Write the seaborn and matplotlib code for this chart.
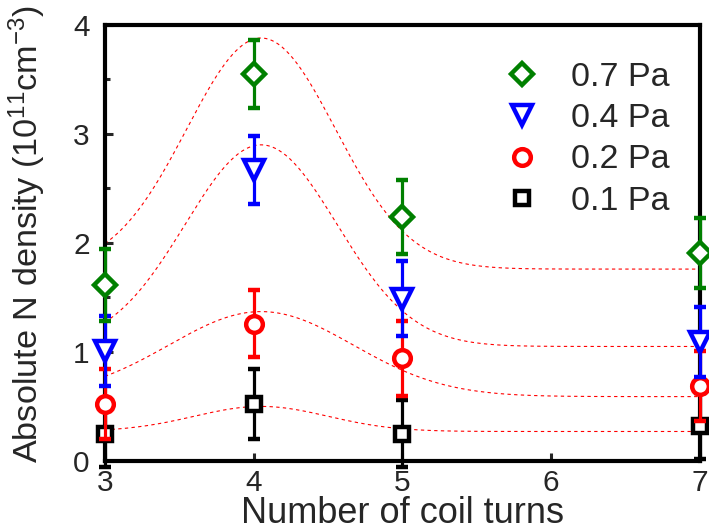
import numpy as np
import pandas as pd
import seaborn as sns
import matplotlib.pyplot as plt
from matplotlib.lines import Line2D
from matplotlib.ticker import MultipleLocator

# measured N density (10^11 cm^-3) vs number of coil turns
turns = [3, 4, 5, 7]
pressures = ["0.7 Pa", "0.4 Pa", "0.2 Pa", "0.1 Pa"]
n_07 = [1.61, 3.55, 2.24, 1.91]
n_04 = [1.01, 2.67, 1.49, 1.09]
n_02 = [0.52, 1.26, 0.94, 0.69]
n_01 = [0.25, 0.52, 0.25, 0.32]
err_07 = [0.33, 0.31, 0.34, 0.32]
err_04 = [0.32, 0.31, 0.34, 0.32]
err_02 = [0.32, 0.31, 0.34, 0.32]
err_01 = [0.31, 0.32, 0.31, 0.30]

# gaussian fit parameters: y0, A, xc, w
fit_y0 = [1.76, 1.05, 0.59, 0.27]
fit_amp = [2.12, 1.85, 0.78, 0.23]
fit_xc = [4.05, 4.05, 4.05, 4.05]
fit_w = [0.50, 0.51, 0.62, 0.45]

sns.set_style("ticks")
plt.rcParams["font.family"] = ["Liberation Sans", "DejaVu Sans"]
plt.rcParams["mathtext.default"] = "regular"

values = [n_07, n_04, n_02, n_01]
errors = [err_07, err_04, err_02, err_01]
colors = ["#008000", "#0000ff", "#ff0000", "#000000"]
markers = ["D", "v", "o", "s"]
sizes = [11, 15, 12, 9.5]
zorders = [6, 5, 4, 3]

fig = plt.figure(figsize=(7.09, 5.31), dpi=100)
ax = fig.add_axes([0.148, 0.132, 0.839, 0.821])

# dotted fit curves
xs = np.linspace(3, 7, 300)
for y0, amp, xc, w in zip(fit_y0, fit_amp, fit_xc, fit_w):
    curve = pd.DataFrame({"x": xs, "y": y0 + amp * np.exp(-(xs - xc) ** 2 / (2 * w ** 2))})
    sns.lineplot(data=curve, x="x", y="y", ax=ax, color="#ff0000", lw=0.8,
                 linestyle=(0, (3, 3)), zorder=1)

handles = []
for label, vals, errs, c, m, ms, z in zip(pressures, values, errors, colors, markers, sizes, zorders):
    ax.errorbar(turns, vals, yerr=errs, fmt=m, color=c, ms=ms, mfc="white", mec=c, mew=3.2,
                elinewidth=2.3, capsize=4.2, capthick=2.6, zorder=z, clip_on=False)
    handles.append(Line2D([], [], marker=m, color=c, ls="none", ms=ms, mfc="white", mew=3.2, label=label))

ax.set_xlim(3, 7)
ax.set_ylim(0, 4)
ax.set_xticks([3, 4, 5, 6, 7])
ax.set_yticks([0, 1, 2, 3, 4])
ax.yaxis.set_minor_locator(MultipleLocator(0.5))
ax.tick_params(axis="both", which="major", direction="in", length=6, width=2.2, labelsize=21.5)
ax.tick_params(axis="y", which="major", pad=11)
ax.tick_params(axis="x", which="major", pad=6)
ax.tick_params(axis="y", which="minor", direction="in", length=3.5, width=2.2)
for side in ["left", "right", "top", "bottom"]:
    ax.spines[side].set_linewidth(3)
    ax.spines[side].set_color("black")

ax.set_xlabel("Number of coil turns", fontsize=26, labelpad=-1)
ax.set_ylabel("Absolute N density (10$^{11}$cm$^{-3}$)", fontsize=24.7, labelpad=8)
ax.yaxis.set_label_coords(-0.095, 0.52)

ax.legend(handles=handles, loc="upper right", bbox_to_anchor=(0.978, 0.928), frameon=False,
          fontsize=24.5, labelspacing=0.3, handletextpad=0.45, borderpad=0.2,
          bbox_transform=fig.transFigure)

fig.savefig("out.png", dpi=100)
